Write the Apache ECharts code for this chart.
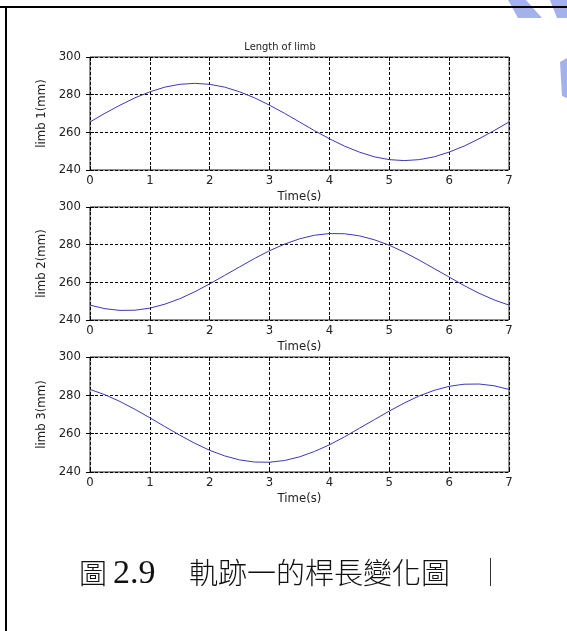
<!DOCTYPE html>
<html>
<head>
<meta charset="utf-8">
<script src="https://cdn.jsdelivr.net/npm/echarts@6/dist/echarts.min.js"></script>
<style>
html,body{margin:0;padding:0;background:#fff;}
#chart{width:567px;height:631px;}
</style>
</head>
<body>
<div id="chart"></div>
<script>
// ---- data ----
var timeS = [0,0.25,0.5,0.75,1,1.25,1.5,1.75,2,2.25,2.5,2.75,3,3.25,3.5,3.75,4,4.25,4.5,4.75,5,5.25,5.5,5.75,6,6.25,6.5,6.75,7];
var limb1 = [265.5,270.1,274.4,278.3,281.5,284.0,285.5,286.0,285.5,284.0,281.5,278.3,274.4,270.1,265.5,260.9,256.6,252.7,249.5,247.0,245.5,245.0,245.5,247.0,249.5,252.7,256.6,260.9,265.5];
var limb2 = [247.9,246.0,245.1,245.2,246.3,248.4,251.3,255.0,259.2,263.7,268.2,272.7,276.8,280.3,283.1,285.0,285.9,285.8,284.7,282.6,279.7,276.0,271.8,267.3,262.8,258.3,254.2,250.7,247.9];
var limb3 = [283.1,280.3,276.8,272.7,268.3,263.7,259.2,255.0,251.3,248.4,246.3,245.2,245.1,246.0,247.9,250.7,254.2,258.3,262.8,267.3,271.8,276.0,279.7,282.6,284.7,285.8,285.9,285.0,283.1];
var yNames = ['limb 1(mm)','limb 2(mm)','limb 3(mm)'];
var xName = 'Time(s)';
var titleText = 'Length of limb';
var captionFig = '圖';
var captionNum = '2.9';
var captionText = '軌跡一的桿長變化圖';

var chart = echarts.init(document.getElementById('chart'), null, {renderer:'canvas'});
var smallFont = "'Liberation Sans Narrow','DejaVu Sans Condensed','Liberation Sans',Arial,sans-serif";
var grids = [
  {left:90, top:57, width:419, height:113},
  {left:90, top:207, width:419, height:113},
  {left:90, top:357, width:419, height:115}
];
var xAxes = [], yAxes = [], series = [];
var seriesData = [limb1, limb2, limb3];
grids.forEach(function(g, i){
  g.show = true; g.borderColor = '#222'; g.borderWidth = 1; g.backgroundColor = '#fff';
  xAxes.push({
    type:'value', gridIndex:i, min:0, max:7, interval:1, position:'bottom',
    name:xName, nameLocation:'middle', nameGap:20,
    nameTextStyle:{fontFamily:smallFont, fontSize:13, color:'#222'},
    axisLine:{show:false},
    axisTick:{show:true, inside:true, length:4, lineStyle:{color:'#000'}},
    axisLabel:{fontFamily:smallFont, fontSize:13, color:'#222', margin:4},
    splitLine:{show:true, lineStyle:{color:'#000', type:[3,2], width:1}}
  });
  xAxes.push({
    type:'value', gridIndex:i, min:0, max:7, interval:1, position:'top',
    axisLine:{show:false},
    axisTick:{show:true, inside:true, length:4, lineStyle:{color:'#000'}},
    axisLabel:{show:false}, splitLine:{show:false}
  });
  yAxes.push({
    type:'value', gridIndex:i, min:240, max:300, interval:20, position:'left',
    name:yNames[i], nameLocation:'middle', nameGap:30,
    nameTextStyle:{fontFamily:smallFont, fontSize:13, color:'#222'},
    axisLine:{show:false},
    axisTick:{show:true, inside:true, length:4, lineStyle:{color:'#000'}},
    axisLabel:{fontFamily:smallFont, fontSize:13, color:'#222', margin:9},
    splitLine:{show:true, lineStyle:{color:'#000', type:[3,2], width:1}}
  });
  yAxes.push({
    type:'value', gridIndex:i, min:240, max:300, interval:20, position:'right',
    axisLine:{show:false},
    axisTick:{show:true, inside:true, length:4, lineStyle:{color:'#000'}},
    axisLabel:{show:false}, splitLine:{show:false}
  });
  series.push({
    type:'line', xAxisIndex:i*2, yAxisIndex:i*2, showSymbol:false, symbol:'none',
    smooth:false, lineStyle:{color:'#3a3ab4', width:1}, silent:true,
    data: timeS.map(function(t, k){ return [t, seriesData[i][k]]; })
  });
});

var wm = '#a3b2ea';
chart.setOption({
  animation:false,
  backgroundColor:'#fff',
  title:{text:titleText, left:275, top:37, textAlign:'center',
    textStyle:{fontFamily:smallFont, fontSize:11, fontWeight:'normal', color:'#222'}},
  grid:grids, xAxis:xAxes, yAxis:yAxes, series:series,
  graphic:[
    {type:'polygon', shape:{points:[[508,0],[526,0],[542,18],[518,18]]}, style:{fill:wm}, z:1},
    {type:'polygon', shape:{points:[[550,0],[567,0],[567,18],[557,18]]}, style:{fill:wm}, z:1},
    {type:'polygon', shape:{points:[[560,62],[567,58],[567,98],[562,96]]}, style:{fill:wm}, z:1},
    {type:'line', shape:{x1:0, y1:7, x2:567, y2:7}, style:{stroke:'#000', lineWidth:2}, z:10},
    {type:'line', shape:{x1:6, y1:6, x2:6, y2:631}, style:{stroke:'#000', lineWidth:2}, z:10},
    {type:'line', shape:{x1:490.5, y1:558, x2:490.5, y2:586}, style:{stroke:'#333', lineWidth:1}, z:10},
    {type:'text', x:79, y:573, style:{text:captionFig, fontFamily:"'Noto Sans CJK TC',sans-serif", fontSize:28, fontWeight:300, fill:'#111', verticalAlign:'middle'}, z:10},
    {type:'text', x:113, y:574, style:{text:captionNum, fontFamily:"'Liberation Serif','Times New Roman',serif", fontSize:34, fill:'#111', verticalAlign:'middle'}, z:10},
    {type:'text', x:189, y:573, style:{text:captionText, fontFamily:"'Noto Sans CJK TC',sans-serif", fontSize:29, fontWeight:300, fill:'#111', verticalAlign:'middle'}, z:10}
  ]
});
</script>
</body>
</html>
